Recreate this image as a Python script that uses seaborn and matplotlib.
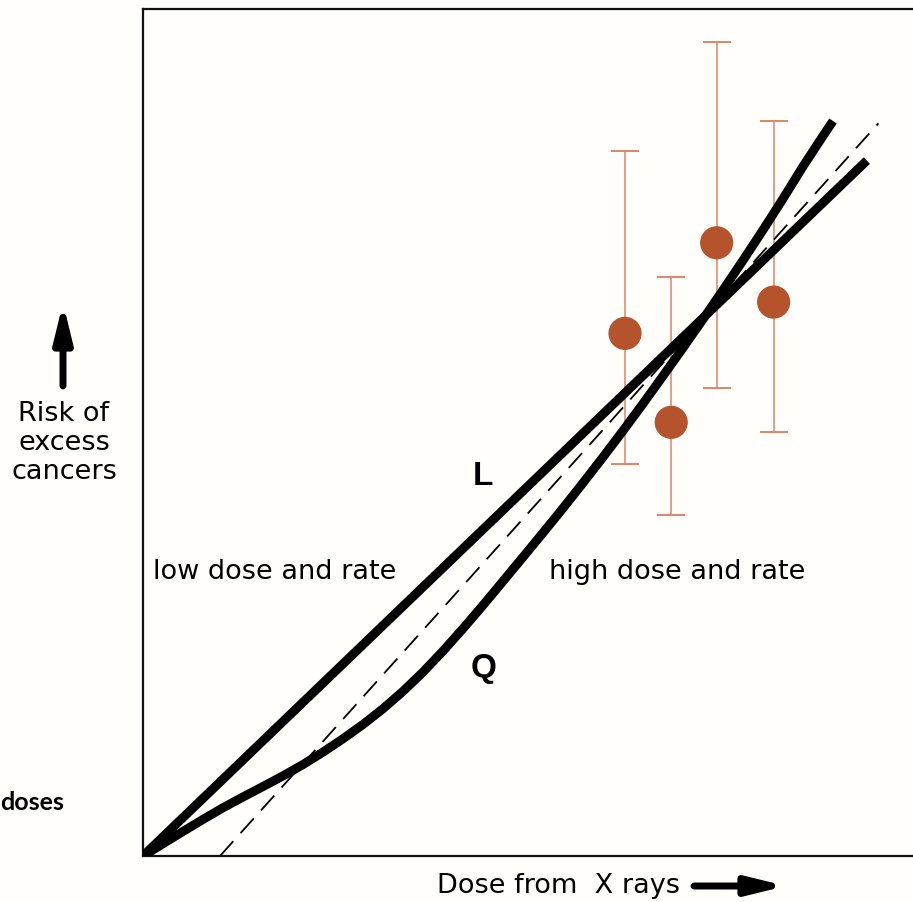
"""
Linear (L) vs linear-quadratic (Q) dose-response sketch with data points
"""

import numpy as np
import matplotlib
matplotlib.use('Agg')
import matplotlib.pyplot as plt
from matplotlib.patches import FancyArrowPatch
import seaborn as sns

# Data (dose and risk in arbitrary units 0-100)
point_dose = [62.6, 68.6, 74.5, 81.9]
point_risk = [61.7, 51.2, 72.4, 65.4]
point_upper = [83.2, 68.4, 96.1, 86.8]
point_lower = [46.3, 40.3, 55.3, 50.1]

linear_dose = [0.0, 94.0]
linear_risk = [0.0, 82.1]

quad_dose = [0.0, 2.60, 5.19, 7.79, 10.39, 12.99, 15.58, 18.18, 20.78, 23.38,
             25.97, 28.57, 31.17, 33.77, 36.36, 38.96, 41.56, 44.16, 46.75,
             49.35, 51.95, 54.55, 57.14, 59.74, 62.34, 64.94, 67.53, 70.13,
             72.73, 75.32, 77.92, 80.52, 83.12, 85.71, 88.31, 89.61]
quad_risk = [0.0, 1.46, 2.90, 4.32, 5.70, 6.97, 8.20, 9.46, 10.80, 12.27,
             13.84, 15.53, 17.39, 19.45, 21.71, 24.20, 26.85, 29.61, 32.44,
             35.29, 38.16, 41.07, 44.04, 47.09, 50.21, 53.41, 56.68, 60.00,
             63.38, 66.81, 70.32, 73.91, 77.61, 81.41, 85.01, 86.78]

fit_dose = [10.0, 95.5]
fit_risk = [0.0, 86.5]

BG = '#fffefa'
DOT = '#b5532c'
BAR = '#de8468'
FONT = ['DejaVu Sans']

sns.set_theme(style='white')
plt.rcParams['font.family'] = FONT
plt.rcParams['text.color'] = 'black'

fig = plt.figure(figsize=(9.13, 9.03), dpi=100, facecolor=BG)
ax = fig.add_axes([143 / 913, 46 / 903, 770 / 913, 847 / 903])
ax.set_facecolor(BG)
ax.set_xlim(0, 100)
ax.set_ylim(0, 100)

# Error bars and points
yerr = [np.subtract(point_risk, point_lower), np.subtract(point_upper, point_risk)]
ax.errorbar(point_dose, point_risk, yerr=yerr, fmt='none', ecolor=BAR,
            elinewidth=1.1, capsize=10, capthick=1.4, zorder=1)
sns.scatterplot(x=point_dose, y=point_risk, s=570, color=DOT,
                edgecolor='none', ax=ax, zorder=3)

# Curves
sns.lineplot(x=fit_dose, y=fit_risk, color='black', lw=1.3,
             linestyle=(0, (11, 6)), ax=ax, zorder=2)
sns.lineplot(x=linear_dose, y=linear_risk, sort=False, color='black', lw=6.5,
             solid_capstyle='butt', ax=ax, zorder=4)
sns.lineplot(x=quad_dose, y=quad_risk, sort=False, color='black', lw=6.5,
             solid_capstyle='butt', solid_joinstyle='round', ax=ax, zorder=4)

# Axes frame
ax.set_xticks([])
ax.set_yticks([])
for side in ['left', 'bottom', 'top']:
    ax.spines[side].set_color('#111111')
    ax.spines[side].set_linewidth(1.6)
ax.spines['right'].set_visible(False)

# Labels inside the plot
ax.text(44.2, 44.9, 'L', fontsize=24, fontweight='bold', ha='center', va='center',
        family=['Liberation Sans', 'DejaVu Sans'])
ax.text(44.2, 22.3, 'Q', fontsize=24, fontweight='bold', ha='center', va='center',
        family=['Liberation Sans', 'DejaVu Sans'])
ax.text(1.3, 33.6, 'low dose and rate', fontsize=19.5, ha='left', va='center')
ax.text(52.7, 33.6, 'high dose and rate', fontsize=19.5, ha='left', va='center')

# Labels outside the plot
fig.text(64 / 913, 1 - 443 / 903, 'Risk of\nexcess\ncancers', fontsize=19.5,
         ha='center', va='center', linespacing=1.13)
fig.text(437 / 913, 1 - 886 / 903, 'Dose from  X rays', fontsize=19.5,
         ha='left', va='center')
fig.text(0, 1 - 803 / 903, 'doses', fontsize=18, fontweight='bold',
         family=['Lato', 'DejaVu Sans'], ha='left', va='center')

arrow_style = dict(arrowstyle='-|>,head_length=1.1,head_width=0.27',
                   color='black', lw=5, shrinkA=0, shrinkB=0)
fig.add_artist(FancyArrowPatch(
    (63 / 913, 1 - 387 / 903), (63 / 913, 1 - 304 / 903),
    transform=fig.transFigure, mutation_scale=20, **arrow_style))
fig.add_artist(FancyArrowPatch(
    (694 / 913, 1 - 887 / 903), (786 / 913, 1 - 887 / 903),
    transform=fig.transFigure, mutation_scale=20, **arrow_style))

fig.savefig('out.png', dpi=100, facecolor=BG)
